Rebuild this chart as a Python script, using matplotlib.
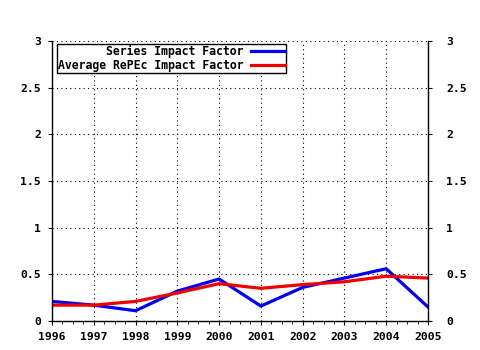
import matplotlib
matplotlib.use("Agg")
import matplotlib.pyplot as plt
from matplotlib.ticker import AutoMinorLocator

years = [1996, 1997, 1998, 1999, 2000, 2001, 2002, 2003, 2004, 2005]
series_if = [0.21, 0.17, 0.11, 0.32, 0.45, 0.16, 0.36, 0.46, 0.56, 0.15]
repec_if = [0.17, 0.17, 0.21, 0.30, 0.40, 0.35, 0.39, 0.42, 0.48, 0.46]
y_ticks = [0, 0.5, 1, 1.5, 2, 2.5, 3]
y_labels = ["0", "0.5", "1", "1.5", "2", "2.5", "3"]

plt.rcParams["font.family"] = ["DejaVu Sans Mono"]
plt.rcParams["font.weight"] = "bold"
plt.rcParams["font.size"] = 8.2

fig = plt.figure(figsize=(4.8, 3.5), dpi=100)
ax = fig.add_axes([52 / 480, 29 / 350, 376 / 480, 280 / 350])

ax.plot(years, series_if, color="#0000ee", lw=2.3, label="Series Impact Factor")
ax.plot(years, repec_if, color="#ee0000", lw=2.3, label="Average RePEc Impact Factor")

ax.set_xlim(1996, 2005)
ax.set_ylim(0, 3)
ax.set_xticks(years)
ax.set_xticklabels([str(y) for y in years])
ax.set_yticks(y_ticks)
ax.set_yticklabels(y_labels)
ax.xaxis.set_minor_locator(AutoMinorLocator(4))
ax.grid(True, color="black", linestyle=(0, (1, 3)), lw=0.8)

ax.tick_params(axis="y", which="both", left=True, right=False, direction="out",
               length=3, pad=5)
ax.tick_params(axis="x", which="major", direction="out", length=3, pad=5)
ax.tick_params(axis="x", which="minor", direction="out", length=2)
for s in ax.spines.values():
    s.set_linewidth(1.0)
    s.set_color("black")
ax.spines["top"].set_visible(False)

# right hand axis with the same scale
ax2 = ax.twinx()
ax2.set_ylim(0, 3)
ax2.set_yticks(y_ticks)
ax2.set_yticklabels(y_labels)
ax2.tick_params(axis="y", direction="out", length=3, pad=10)
for s in ax2.spines.values():
    s.set_visible(False)

leg = ax.legend(loc="upper left", bbox_to_anchor=(0.013, 0.99), markerfirst=False,
                fancybox=False, edgecolor="black", framealpha=1, borderpad=0.1,
                handlelength=3.0, handletextpad=0.6, labelspacing=0.1,
                borderaxespad=0, fontsize=8.3)
leg.get_frame().set_linewidth(1.0)
for t in leg.get_texts():
    t.set_ha("right")
leg._legend_box.align = "right"

fig.savefig("out.png", dpi=100)
